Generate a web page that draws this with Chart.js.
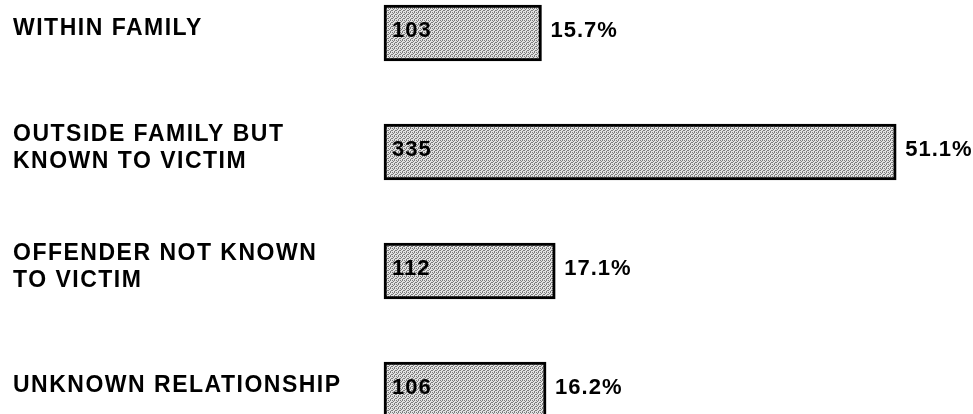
<!DOCTYPE html>
<html>
<head>
<meta charset="utf-8">
<script src="https://cdn.jsdelivr.net/npm/chart.js@4.4.1/dist/chart.umd.min.js"></script>
<style>
  html, body { margin: 0; padding: 0; background: #fff; }
  #wrap { width: 973px; height: 414px; position: relative; }
</style>
</head>
<body>
<div id="wrap"><canvas id="relChart"></canvas></div>
<script>
// Relationship of offender to victim
var categories = [
    ['WITHIN FAMILY'],
    ['OUTSIDE FAMILY BUT', 'KNOWN TO VICTIM'],
    ['OFFENDER NOT KNOWN', 'TO VICTIM'],
    ['UNKNOWN RELATIONSHIP']
];
var counts = [103, 335, 112, 106];
var percents = ['15.7%', '51.1%', '17.1%', '16.2%'];

// Stippled grey fill like the printed halftone
function makeStipple() {
    var c = document.createElement('canvas');
    c.width = 4;
    c.height = 4;
    var g = c.getContext('2d');
    g.fillStyle = '#e2e2e2';
    g.fillRect(0, 0, 4, 4);
    g.fillStyle = '#7c7c7c';
    [[0, 0], [2, 0], [1, 1], [3, 2], [0, 2], [2, 3]].forEach(function (p) {
        g.fillRect(p[0], p[1], 1, 1);
    });
    return g.createPattern(c, 'repeat');
}

var textSpacing = {
    id: 'textSpacing',
    beforeDraw: function (chart) {
        chart.ctx.letterSpacing = '1.5px';
    }
};

// Count inside the bar, percentage to the right of it
var barText = {
    id: 'barText',
    afterDatasetsDraw: function (chart) {
        var ctx = chart.ctx;
        var meta = chart.getDatasetMeta(0);
        ctx.save();
        ctx.letterSpacing = '1px';
        ctx.font = 'bold 22px "Liberation Sans", Arial, sans-serif';
        ctx.fillStyle = '#000';
        ctx.textBaseline = 'middle';
        ctx.textAlign = 'left';
        meta.data.forEach(function (bar, i) {
            ctx.fillText(String(counts[i]), bar.base + 8, bar.y - 2);
            ctx.fillText(percents[i], bar.x + 9, bar.y - 2);
        });
        ctx.restore();
    }
};

new Chart(document.getElementById('relChart'), {
    type: 'bar',
    data: {
        labels: categories,
        datasets: [{
            data: counts,
            backgroundColor: makeStipple(),
            borderColor: '#000',
            borderWidth: 3,
            borderSkipped: false,
            barThickness: 56,
            clip: false
        }]
    },
    options: {
        indexAxis: 'y',
        responsive: true,
        maintainAspectRatio: false,
        animation: false,
        layout: {
            padding: { left: 13, right: 8, top: 33, bottom: 24 }
        },
        scales: {
            x: {
                display: false,
                min: 0,
                max: 380
            },
            y: {
                offset: false,
                grid: { display: false },
                border: { display: false },
                ticks: {
                    crossAlign: 'far',
                    labelOffset: -4,
                    color: '#000',
                    font: {
                        family: '"Liberation Sans", Arial, sans-serif',
                        size: 23,
                        weight: 'bold',
                        lineHeight: 1.17
                    }
                },
                afterFit: function (scale) {
                    scale.width = 371;
                }
            }
        },
        plugins: {
            legend: { display: false },
            tooltip: { enabled: false }
        }
    },
    plugins: [textSpacing, barText]
});
</script>
</body>
</html>
